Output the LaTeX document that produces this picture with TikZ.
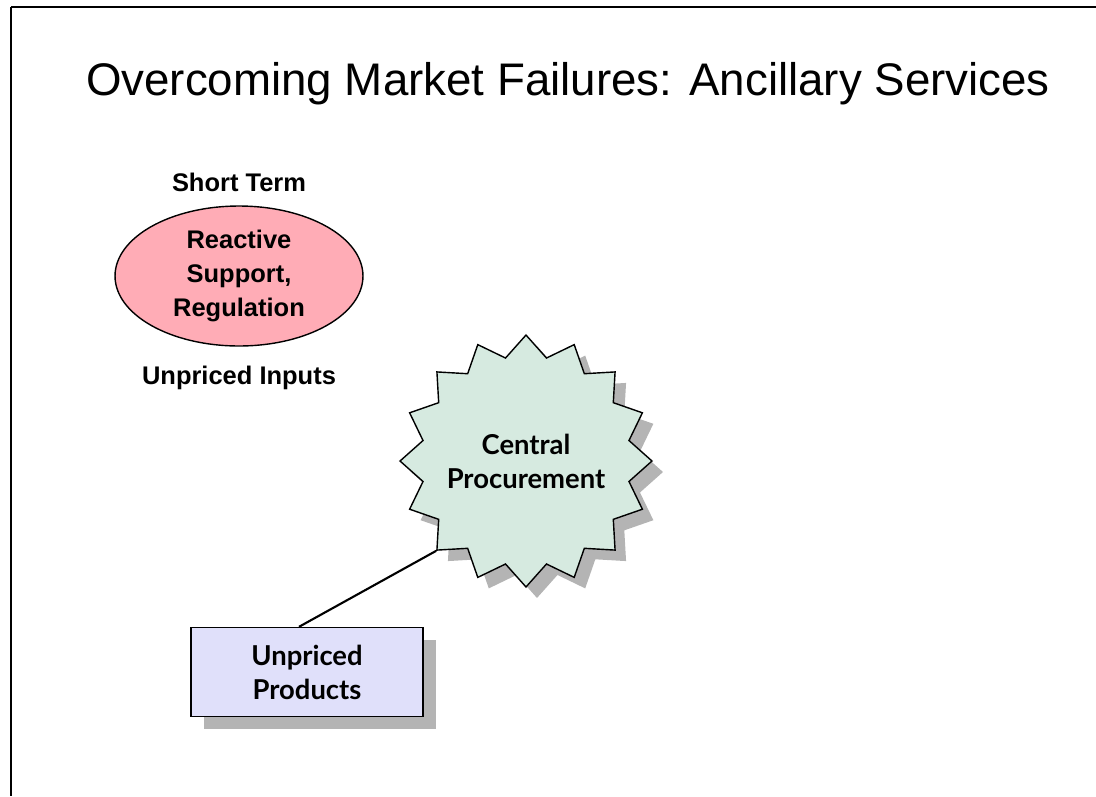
\documentclass[tikz,border=0pt]{standalone}
\usepackage{fontspec}
\setmainfont{Liberation Sans}
\newfontfamily\gillfont{Lato}
\usepackage{color}
\definecolor{mypink}{RGB}{255,172,182}
\definecolor{mymint}{RGB}{214,234,224}
\definecolor{mylavender}{RGB}{224,224,250}
\definecolor{myshadow}{RGB}{180,180,180}
\usepackage{tikz}
\usetikzlibrary{shapes.geometric,shadows,positioning}
\tikzstyle{caption}=[inner sep=0pt,align=center,font=\fontsize{14.5}{19.3}\selectfont\bfseries]
\tikzstyle{gillcaption}=[inner sep=0pt,align=center,font=\gillfont\fontsize{15.6}{19.3}\selectfont\bfseries]
\tikzstyle{bubble}=[draw,fill=mypink,ellipse,minimum width=4.96cm,minimum height=2.8cm,caption]
\tikzstyle{burst}=[draw,fill=mymint,star,star points=16,star point ratio=1.2,minimum size=5.04cm,gillcaption,inner sep=-0.5cm,drop shadow={shadow xshift=0.22cm,shadow yshift=-0.22cm,fill=myshadow,opacity=1}]
\tikzstyle{box}=[draw,fill=mylavender,rectangle,minimum width=4.64cm,minimum height=1.78cm,gillcaption,drop shadow={shadow xshift=0.26cm,shadow yshift=-0.24cm,fill=myshadow,opacity=1}]

\begin{document}
\begin{tikzpicture}[x=0.02cm,y=-0.02cm,thick]
\useasboundingbox (0,0) rectangle (1096,796);
\draw[line width=1pt] (11,7) -- (1096,7);
\draw[line width=1pt] (11,7) -- (11,796);
\node [font=\fontsize{26}{30}\selectfont] (title) at (568,84) {Overcoming Market Failures: Ancillary Services};

\node [bubble] (rs) at (239,276) {Reactive\\Support,\\Regulation};
\node [caption] [above=0.26cm of rs] (st) {Short Term};
\node [caption] [below=0.38cm of rs] (ui) {Unpriced Inputs};

\node [burst] (cp) at (526,461) {Central\\Procurement};
\node [box] (up) at (307,672) {Unpriced\\Products};

\draw [line width=1.2pt] (cp.outer point 7) -- ([xshift=-0.16cm]up.north);
\end{tikzpicture}
\end{document}
